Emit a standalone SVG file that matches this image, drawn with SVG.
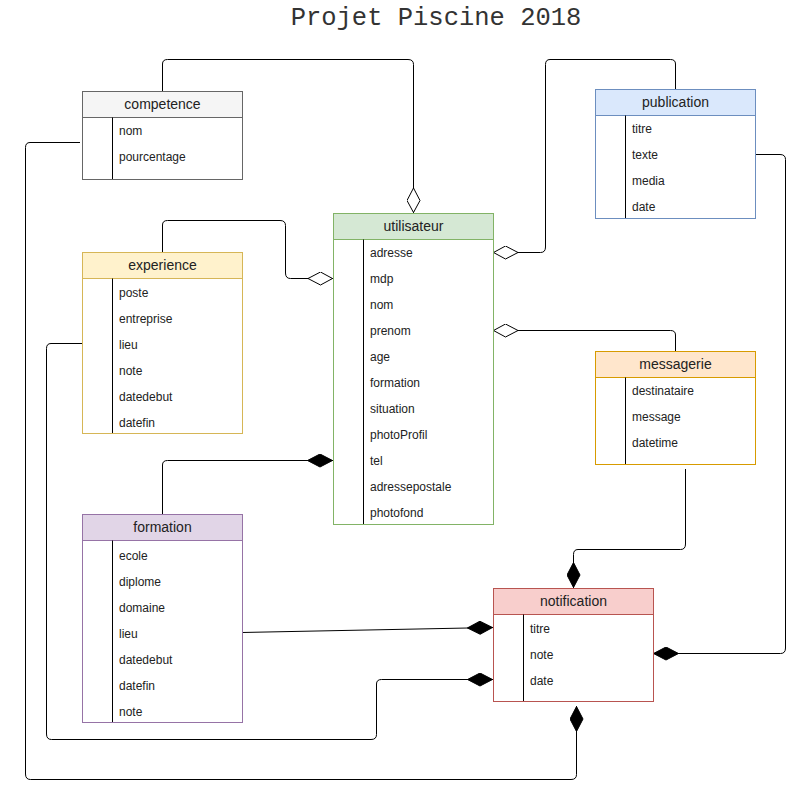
<svg xmlns="http://www.w3.org/2000/svg" width="812" height="806" viewBox="0 0 812 806">
<defs>
<style>
.hd{font-family:"Liberation Sans",Arial,sans-serif;font-size:14px;fill:#222;text-anchor:middle}
.fd{font-family:"Liberation Sans",Arial,sans-serif;font-size:12px;fill:#222}
.title{font-family:"Liberation Mono","Courier New",monospace;font-size:25.5px;fill:#333;text-anchor:middle}
.body{fill:#fff;stroke-width:1}
.div{stroke:#000;stroke-width:1}
.c{fill:none;stroke:#000;stroke-width:1}
.co{marker-end:url(#open)}
.cf{marker-end:url(#filled)}
</style>
<marker id="open" viewBox="0 0 26 14" refX="26" refY="7" markerWidth="26" markerHeight="14" markerUnits="userSpaceOnUse" orient="auto">
<path d="M1,7 L13.5,0.5 L25.5,7 L13.5,13.5 Z" fill="#fff" stroke="#000" stroke-width="1"/>
</marker>
<marker id="filled" viewBox="0 0 26 14" refX="26" refY="7" markerWidth="26" markerHeight="14" markerUnits="userSpaceOnUse" orient="auto">
<path d="M0.5,7 L13,0.5 L25.5,7 L13,13.5 Z" fill="#000" stroke="#000" stroke-width="1"/>
</marker>
</defs>
<rect width="812" height="806" fill="#fff"/>
<text class="title" x="436" y="25">Projet Piscine 2018</text>

<g id="connectors">
<path class="c co" d="M162.5,91 V64 Q162.5,59.5 167.5,59.5 H408 Q413.5,59.5 413.5,64.5 V213"/>
<path class="c cf" d="M80,142.5 H30 Q25.5,142.5 25.5,147.5 V774 Q25.5,779.5 30.5,779.5 H571 Q576.5,779.5 576.5,774.5 V706"/>
<path class="c co" d="M162.5,252 V225 Q162.5,220.5 167.5,220.5 H280 Q285.5,220.5 285.5,225.5 V273 Q285.5,278.5 290.5,278.5 H333"/>
<path class="c cf" d="M82,343.5 H51 Q46.5,343.5 46.5,348.5 V734 Q46.5,739.5 51.5,739.5 H371 Q376.5,739.5 376.5,734.5 V684 Q376.5,679.5 381.5,679.5 H493"/>
<path class="c cf" d="M162.5,514 V465 Q162.5,460.5 167.5,460.5 H333"/>
<path class="c cf" d="M242,632.5 L493,627.5"/>
<path class="c co" d="M675.5,89 V64 Q675.5,59.5 670.5,59.5 H550 Q545.5,59.5 545.5,64.5 V247 Q545.5,252.5 540.5,252.5 H493"/>
<path class="c cf" d="M755,154.5 H780 Q785.5,154.5 785.5,159.5 V648 Q785.5,653.5 780.5,653.5 H653"/>
<path class="c co" d="M675.5,351 V335 Q675.5,330.5 670.5,330.5 H493"/>
<path class="c cf" d="M685.5,469 V544 Q685.5,549.5 680.5,549.5 H578 Q573.5,549.5 573.5,554.5 V588"/>
</g>

<g id="competence">
<rect class="body" x="82.5" y="91.5" width="160" height="88" stroke="#666666"/>
<rect x="82.5" y="91.5" width="160" height="26" fill="#f5f5f5" stroke="#666666"/>
<line class="div" x1="112.5" y1="117.5" x2="112.5" y2="179"/>
<text class="hd" x="162.5" y="109">competence</text>
<text class="fd" x="119" y="135">nom</text>
<text class="fd" x="119" y="161">pourcentage</text>
</g>

<g id="publication">
<rect class="body" x="595.5" y="89.5" width="160" height="129" stroke="#6c8ebf"/>
<rect x="595.5" y="89.5" width="160" height="26" fill="#dae8fc" stroke="#6c8ebf"/>
<line class="div" x1="625.5" y1="115.5" x2="625.5" y2="218"/>
<text class="hd" x="675.5" y="107">publication</text>
<text class="fd" x="632" y="133">titre</text>
<text class="fd" x="632" y="159">texte</text>
<text class="fd" x="632" y="185">media</text>
<text class="fd" x="632" y="211">date</text>
</g>

<g id="utilisateur">
<rect class="body" x="333.5" y="213.5" width="160" height="311" stroke="#82b366"/>
<rect x="333.5" y="213.5" width="160" height="26" fill="#d5e8d4" stroke="#82b366"/>
<line class="div" x1="363.5" y1="239.5" x2="363.5" y2="524"/>
<text class="hd" x="413.5" y="231">utilisateur</text>
<text class="fd" x="370" y="257">adresse</text>
<text class="fd" x="370" y="283">mdp</text>
<text class="fd" x="370" y="309">nom</text>
<text class="fd" x="370" y="335">prenom</text>
<text class="fd" x="370" y="361">age</text>
<text class="fd" x="370" y="387">formation</text>
<text class="fd" x="370" y="413">situation</text>
<text class="fd" x="370" y="439">photoProfil</text>
<text class="fd" x="370" y="465">tel</text>
<text class="fd" x="370" y="491">adressepostale</text>
<text class="fd" x="370" y="517">photofond</text>
</g>

<g id="experience">
<rect class="body" x="82.5" y="252.5" width="160" height="181" stroke="#d6b656"/>
<rect x="82.5" y="252.5" width="160" height="26" fill="#fff2cc" stroke="#d6b656"/>
<line class="div" x1="112.5" y1="278.5" x2="112.5" y2="433"/>
<text class="hd" x="162.5" y="270">experience</text>
<text class="fd" x="119" y="297">poste</text>
<text class="fd" x="119" y="323">entreprise</text>
<text class="fd" x="119" y="349">lieu</text>
<text class="fd" x="119" y="375">note</text>
<text class="fd" x="119" y="401">datedebut</text>
<text class="fd" x="119" y="427">datefin</text>
</g>

<g id="messagerie">
<rect class="body" x="595.5" y="351.5" width="160" height="113" stroke="#d79b00"/>
<rect x="595.5" y="351.5" width="160" height="26" fill="#ffe6cc" stroke="#d79b00"/>
<line class="div" x1="625.5" y1="377.5" x2="625.5" y2="464"/>
<text class="hd" x="675.5" y="369">messagerie</text>
<text class="fd" x="632" y="395">destinataire</text>
<text class="fd" x="632" y="421">message</text>
<text class="fd" x="632" y="447">datetime</text>
</g>

<g id="formation">
<rect class="body" x="82.5" y="514.5" width="160" height="208" stroke="#9673a6"/>
<rect x="82.5" y="514.5" width="160" height="26" fill="#e1d5e7" stroke="#9673a6"/>
<line class="div" x1="112.5" y1="540.5" x2="112.5" y2="722"/>
<text class="hd" x="162.5" y="532">formation</text>
<text class="fd" x="119" y="560">ecole</text>
<text class="fd" x="119" y="586">diplome</text>
<text class="fd" x="119" y="612">domaine</text>
<text class="fd" x="119" y="638">lieu</text>
<text class="fd" x="119" y="664">datedebut</text>
<text class="fd" x="119" y="690">datefin</text>
<text class="fd" x="119" y="716">note</text>
</g>

<g id="notification">
<rect class="body" x="493.5" y="588.5" width="160" height="113" stroke="#b85450"/>
<rect x="493.5" y="588.5" width="160" height="26" fill="#f8cecc" stroke="#b85450"/>
<line class="div" x1="523.5" y1="614.5" x2="523.5" y2="701"/>
<text class="hd" x="573.5" y="606">notification</text>
<text class="fd" x="530" y="633">titre</text>
<text class="fd" x="530" y="659">note</text>
<text class="fd" x="530" y="685">date</text>
</g>
</svg>
